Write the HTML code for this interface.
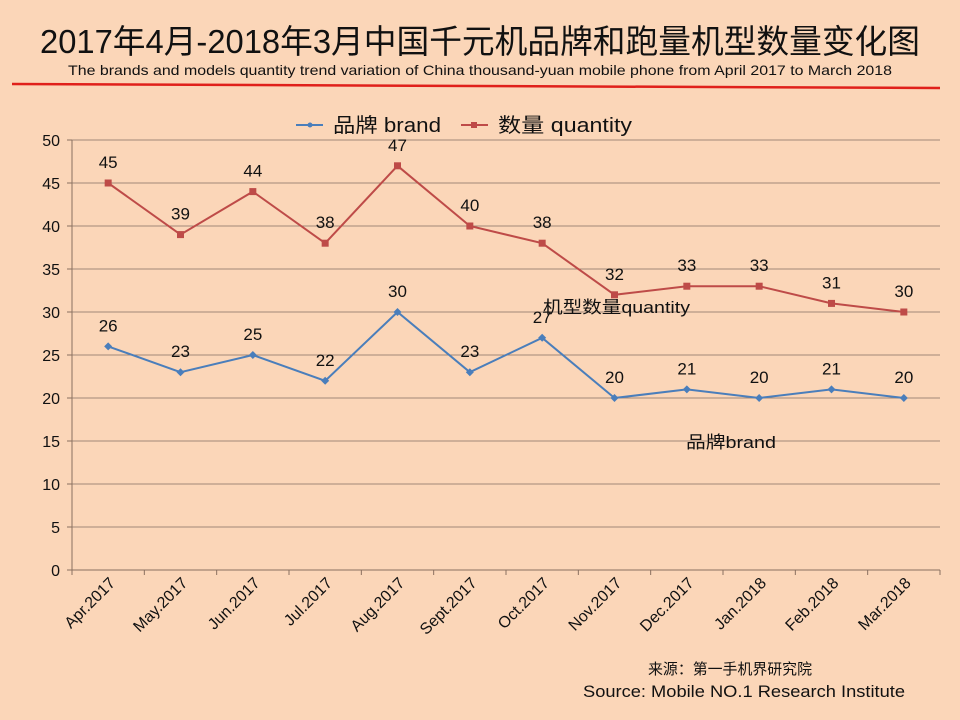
<!DOCTYPE html>
<html><head><meta charset="utf-8"><style>
body{margin:0;background:#fbd6b8;}
svg{display:block;font-family:"Liberation Sans","Noto Sans CJK SC",sans-serif;}
</style></head><body>
<svg width="960" height="720" viewBox="0 0 960 720">
<rect width="960" height="720" fill="#fbd6b8"/>
<text x="40" y="53" font-size="33" textLength="880" lengthAdjust="spacingAndGlyphs" fill="#111">2017年4月-2018年3月中国千元机品牌和跑量机型数量变化图</text>
<text x="68" y="75" font-size="14" textLength="824" lengthAdjust="spacingAndGlyphs" fill="#111">The brands and models quantity trend variation of China thousand-yuan mobile phone from April 2017 to March 2018</text>
<line x1="12" y1="84" x2="940" y2="88" stroke="#e0201a" stroke-width="2.5"/>
<g>
<g><line x1="296" y1="125" x2="323" y2="125" stroke="#4a7ebb" stroke-width="2"/><circle cx="310" cy="125" r="2.5" fill="#4a7ebb"/><text x="333" y="132" font-size="20" textLength="108" lengthAdjust="spacingAndGlyphs" fill="#111">品牌 brand</text></g>
<g><line x1="461" y1="125" x2="488" y2="125" stroke="#be4b48" stroke-width="2"/><rect x="471" y="122" width="6" height="6" fill="#be4b48"/><text x="498" y="132" font-size="20" textLength="134" lengthAdjust="spacingAndGlyphs" fill="#111">数量 quantity</text></g>
</g>
<g id="grid"></g>
<g id="axes"></g>
<g id="series"></g>
<text x="543" y="313" font-size="17" textLength="147" lengthAdjust="spacingAndGlyphs" fill="#111">机型数量quantity</text>
<text x="686" y="448" font-size="17" textLength="90" lengthAdjust="spacingAndGlyphs" fill="#111">品牌brand</text>
<text x="648" y="674" font-size="15" textLength="164" lengthAdjust="spacingAndGlyphs" fill="#111">来源：第一手机界研究院</text>
<text x="583" y="697" font-size="17" textLength="322" lengthAdjust="spacingAndGlyphs" fill="#111">Source: Mobile NO.1 Research Institute</text>
</svg>
<script>
const categories=["Apr.2017","May.2017","Jun.2017","Jul.2017","Aug.2017","Sept.2017","Oct.2017","Nov.2017","Dec.2017","Jan.2018","Feb.2018","Mar.2018"];
const brandValues=[26,23,25,22,30,23,27,20,21,20,21,20];
const quantityValues=[45,39,44,38,47,40,38,32,33,33,31,30];
const yTicks=[0,5,10,15,20,25,30,35,40,45,50];
const NS="http://www.w3.org/2000/svg";
const L=72,R=940,T=140,B=570,yMax=50;
const bw=(R-L)/categories.length;
const xS=i=>L+bw*(i+0.5);
const yS=v=>B-(v/yMax)*(B-T);
function mk(t,a,p){const e=document.createElementNS(NS,t);for(const k in a)e.setAttribute(k,a[k]);p.appendChild(e);return e;}
const grid=document.getElementById('grid'),axes=document.getElementById('axes'),series=document.getElementById('series');
yTicks.forEach(v=>{
 const g=mk('line',{x1:L,x2:R,y1:yS(v),y2:yS(v),stroke:v===0?'#8a7060':'#a08878','stroke-width':1},grid);
 
 
 const t=mk('text',{x:L-12,y:yS(v)+6,'text-anchor':'end','font-size':16,fill:'#111'},axes);
 t.textContent=v;
 
 
 mk('line',{x1:L-5,x2:L,y1:yS(v),y2:yS(v),stroke:'#8a7060'},axes);
});
mk('line',{x1:L,x2:L,y1:T,y2:B,stroke:'#8a7060'},axes);
for(let i=0;i<=categories.length;i++){mk('line',{x1:L+bw*i,x2:L+bw*i,y1:B,y2:B+5,stroke:'#8a7060'},axes);}
categories.forEach((c,i)=>{
 const x=xS(i)+8,y=B+14;
 const t=mk('text',{x:x,y:y,'text-anchor':'end','font-size':16,fill:'#111',transform:`rotate(-45 ${x} ${y})`},axes);
 t.textContent=c;
 
 
});
function draw(vals,color,name,square){
 const pl=mk('polyline',{points:vals.map((v,i)=>xS(i)+','+yS(v)).join(' '),fill:'none',stroke:color,'stroke-width':2},series);
 
 
 vals.forEach((v,i)=>{
  let m;
  if(square) m=mk('rect',{x:xS(i)-3.5,y:yS(v)-3.5,width:7,height:7,fill:color},series);
  else m=mk('path',{d:`M${xS(i)} ${yS(v)-4}L${xS(i)+4} ${yS(v)}L${xS(i)} ${yS(v)+4}L${xS(i)-4} ${yS(v)}Z`,fill:color},series);
  
  
  const t=mk('text',{x:xS(i),y:yS(v)-15,'text-anchor':'middle','font-size':17,fill:'#111'},series);
  t.textContent=v;
  
  
 });
}
draw(brandValues,'#4a7ebb','brand',false);
draw(quantityValues,'#be4b48','quantity',true);
</script>
</body></html>
